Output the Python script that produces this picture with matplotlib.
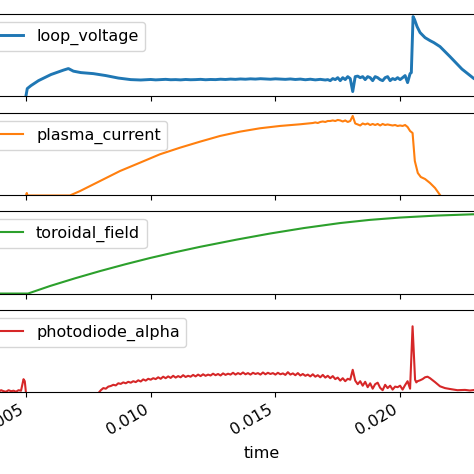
import numpy as np
import matplotlib
matplotlib.use("Agg")
import matplotlib.pyplot as plt
from matplotlib.ticker import MultipleLocator

plt.rcParams["font.size"] = 11.5

# loop voltage [V]
lv_t_start = [0.0050, 0.00505, 0.0052, 0.0055, 0.0060, 0.0065, 0.0067, 0.0069,
              0.0072, 0.0077, 0.0082, 0.0087, 0.0092, 0.0096]
lv_v_start = [0.0, 0.54, 0.77, 1.15, 1.62, 1.96, 2.08, 1.88,
              1.77, 1.69, 1.54, 1.35, 1.23, 1.20]
lv_flat = [1.22, 1.24, 1.21, 1.23, 1.25, 1.22, 1.23, 1.21, 1.24, 1.22,
           1.23, 1.25, 1.22, 1.24, 1.23, 1.26, 1.24, 1.27, 1.25, 1.28,
           1.26, 1.29, 1.27, 1.30, 1.28, 1.26, 1.29, 1.27, 1.25, 1.28,
           1.24, 1.27, 1.22, 1.26, 1.21, 1.25, 1.20]  # 0.0098 .. 0.0170, step 0.0002
lv_noisy = [1.23, 1.15, 1.31, 1.23, 1.38, 1.15, 1.38, 1.23, 1.46, 1.31,
            0.31, 1.46, 1.50, 1.38, 1.46, 1.23, 1.46, 1.38, 1.15, 1.46,
            1.38, 1.23, 1.15, 1.38, 1.46, 1.15, 1.31, 1.23, 1.38, 1.23,
            1.38, 1.54, 1.00, 1.69]  # 0.0171 .. 0.0204, step 0.0001
lv_t_end = [0.02045, 0.02052, 0.02058, 0.02068, 0.0208, 0.0210, 0.0212,
            0.02135, 0.0216, 0.0220, 0.02248, 0.02296, 0.0235]
lv_v_end = [1.77, 6.08, 5.85, 5.31, 4.85, 4.46, 4.23,
            4.08, 3.77, 3.00, 2.04, 1.31, 0.77]

# plasma current [kA]
pc_t_start = [0.0050, 0.00503, 0.00506, 0.00676, 0.00717, 0.00797, 0.00877,
              0.00957, 0.01037, 0.01118, 0.01198, 0.01278, 0.01358, 0.01438,
              0.01518, 0.01599]
pc_v_start = [0.0, 0.31, 0.0, 0.0, 0.56, 1.81, 3.06,
              4.10, 5.15, 5.98, 6.73, 7.44, 7.98, 8.40,
              8.69, 8.90]
pc_noisy = [9.06, 9.13, 9.06, 9.19, 9.25, 9.19, 9.31, 9.31, 9.38, 9.31,
            9.44, 9.38, 9.25, 9.38, 9.19, 9.31, 9.94, 9.00, 8.88, 8.75,
            9.00, 8.88, 9.00, 8.81, 8.94, 8.81, 8.94, 8.75, 8.94, 8.81,
            8.88, 8.81, 8.75, 8.81, 8.69, 8.75, 8.69, 8.81, 8.56, 8.06,
            7.81]  # 0.0165 .. 0.0205, step 0.0001
pc_t_end = [0.02059, 0.02071, 0.02083, 0.0210, 0.0212, 0.0214, 0.0216]
pc_v_end = [4.31, 2.81, 2.31, 2.06, 1.56, 0.94, 0.06]

# toroidal field [T]
tf_t = [0.0030, 0.0050, 0.00508, 0.00596, 0.00697, 0.00797, 0.00897, 0.00997,
        0.01097, 0.01198, 0.01346, 0.01478, 0.01615, 0.01759, 0.01879,
        0.0200, 0.02148, 0.02296, 0.02441]
tf_v = [0.0, 0.0, 0.0, 0.094, 0.191, 0.281, 0.365, 0.444,
        0.516, 0.584, 0.675, 0.750, 0.819, 0.881, 0.921,
        0.950, 0.975, 0.991, 1.0]

# photodiode alpha [a.u.]
pd_early = [0.033, 0.067, 0.033, 0.083, 0.05, 0.10, 0.067, 0.05, 0.10, 0.067,
            0.083, 0.05, 0.10, 0.083, 0.467]  # 0.0035 .. 0.0049, step 0.0001
pd_t_gap = [0.00495, 0.0050, 0.0078]
pd_v_gap = [0.40, 0.0, 0.0]
pd_main = [0.00, 0.10, 0.17, 0.15, 0.22, 0.24, 0.28, 0.26, 0.33, 0.31,
           0.36, 0.33, 0.38, 0.35, 0.40, 0.37, 0.43, 0.39, 0.46, 0.42,
           0.48, 0.45, 0.50, 0.47, 0.53, 0.48, 0.55, 0.50, 0.56, 0.51,
           0.58, 0.52, 0.57, 0.53, 0.60, 0.54, 0.58, 0.55, 0.61, 0.56,
           0.62, 0.57, 0.63, 0.58, 0.62, 0.59, 0.65, 0.60, 0.64, 0.59,
           0.66, 0.61, 0.65, 0.62, 0.68, 0.62, 0.67, 0.63, 0.69, 0.63,
           0.67, 0.62, 0.68, 0.64, 0.67, 0.62, 0.69, 0.63, 0.68, 0.64,
           0.67, 0.62, 0.68, 0.63, 0.66, 0.61, 0.70, 0.62, 0.66, 0.60,
           0.67, 0.59, 0.64, 0.58, 0.62, 0.56, 0.63, 0.55, 0.60, 0.53,
           0.61, 0.52, 0.58, 0.50, 0.57, 0.47, 0.52, 0.42, 0.50, 0.40,
           0.48, 0.45, 0.78, 0.42, 0.30, 0.40, 0.25, 0.38, 0.20, 0.33,
           0.15, 0.30, 0.35, 0.18, 0.10, 0.28, 0.17, 0.25, 0.12, 0.22,
           0.20, 0.25, 0.12, 0.27, 0.40, 0.15, 2.23]  # 0.0079 .. 0.0205, step 0.0001
pd_t_end = [0.0206, 0.02065, 0.0207, 0.0208, 0.0209, 0.0210, 0.0211, 0.0212,
            0.0214, 0.0216, 0.0218, 0.0220, 0.0223, 0.0226, 0.0228, 0.0230, 0.0235]
pd_v_end = [0.45, 0.36, 0.40, 0.43, 0.47, 0.53, 0.55, 0.50,
            0.37, 0.23, 0.17, 0.14, 0.10, 0.11, 0.09, 0.11, 0.10]


def steps(start, step, vals):
    return start + step * np.arange(len(vals))


lv_t = np.concatenate([lv_t_start, steps(0.0098, 0.0002, lv_flat),
                       steps(0.0171, 0.0001, lv_noisy), lv_t_end])
lv_v = np.concatenate([lv_v_start, lv_flat, lv_noisy, lv_v_end])
pc_t = np.concatenate([pc_t_start, steps(0.0165, 0.0001, pc_noisy), pc_t_end])
pc_v = np.concatenate([pc_v_start, pc_noisy, pc_v_end])
pd_t = np.concatenate([steps(0.0035, 0.0001, pd_early), pd_t_gap,
                       steps(0.0079, 0.0001, pd_main), pd_t_end])
pd_v = np.concatenate([pd_early, pd_v_gap, pd_main, pd_v_end])

series = [
    ("loop_voltage", lv_t, lv_v, "C0", 2.1, (-0.03, 6.28)),
    ("plasma_current", pc_t, pc_v, "C1", 1.5, (0.06, 10.31)),
    ("toroidal_field", tf_t, tf_v, "C2", 1.5, (-0.006, 1.031)),
    ("photodiode_alpha", pd_t, pd_v, "C3", 1.5, (0.04, 2.773)),
]

fig = plt.figure(figsize=(4.74, 4.74), dpi=100)
# panels run past the figure edges (cropped view of a wider plot)
rects = [(-0.0485, 0.7975, 1.2025, 0.173),
         (-0.0485, 0.5886, 1.2025, 0.173),
         (-0.0485, 0.3797, 1.2025, 0.175),
         (-0.0485, 0.173, 1.2025, 0.173)]

axes = []
for i, (name, t, v, col, lw, ylim) in enumerate(series):
    ax = fig.add_axes(rects[i], sharex=axes[0] if axes else None)
    ax.plot(t, v, color=col, lw=lw, label=name)
    ax.set_ylim(*ylim)
    ax.legend(loc="upper left")
    if i < 3:
        ax.tick_params(labelbottom=False)
    axes.append(ax)

axes[0].set_xlim(0.003035, 0.02589)
axes[0].xaxis.set_major_locator(MultipleLocator(0.005))
for lab in axes[-1].get_xticklabels():
    lab.set_rotation(30)
    lab.set_ha("right")
axes[-1].set_xlabel("time", labelpad=6)

plt.savefig("out.png", dpi=100)
